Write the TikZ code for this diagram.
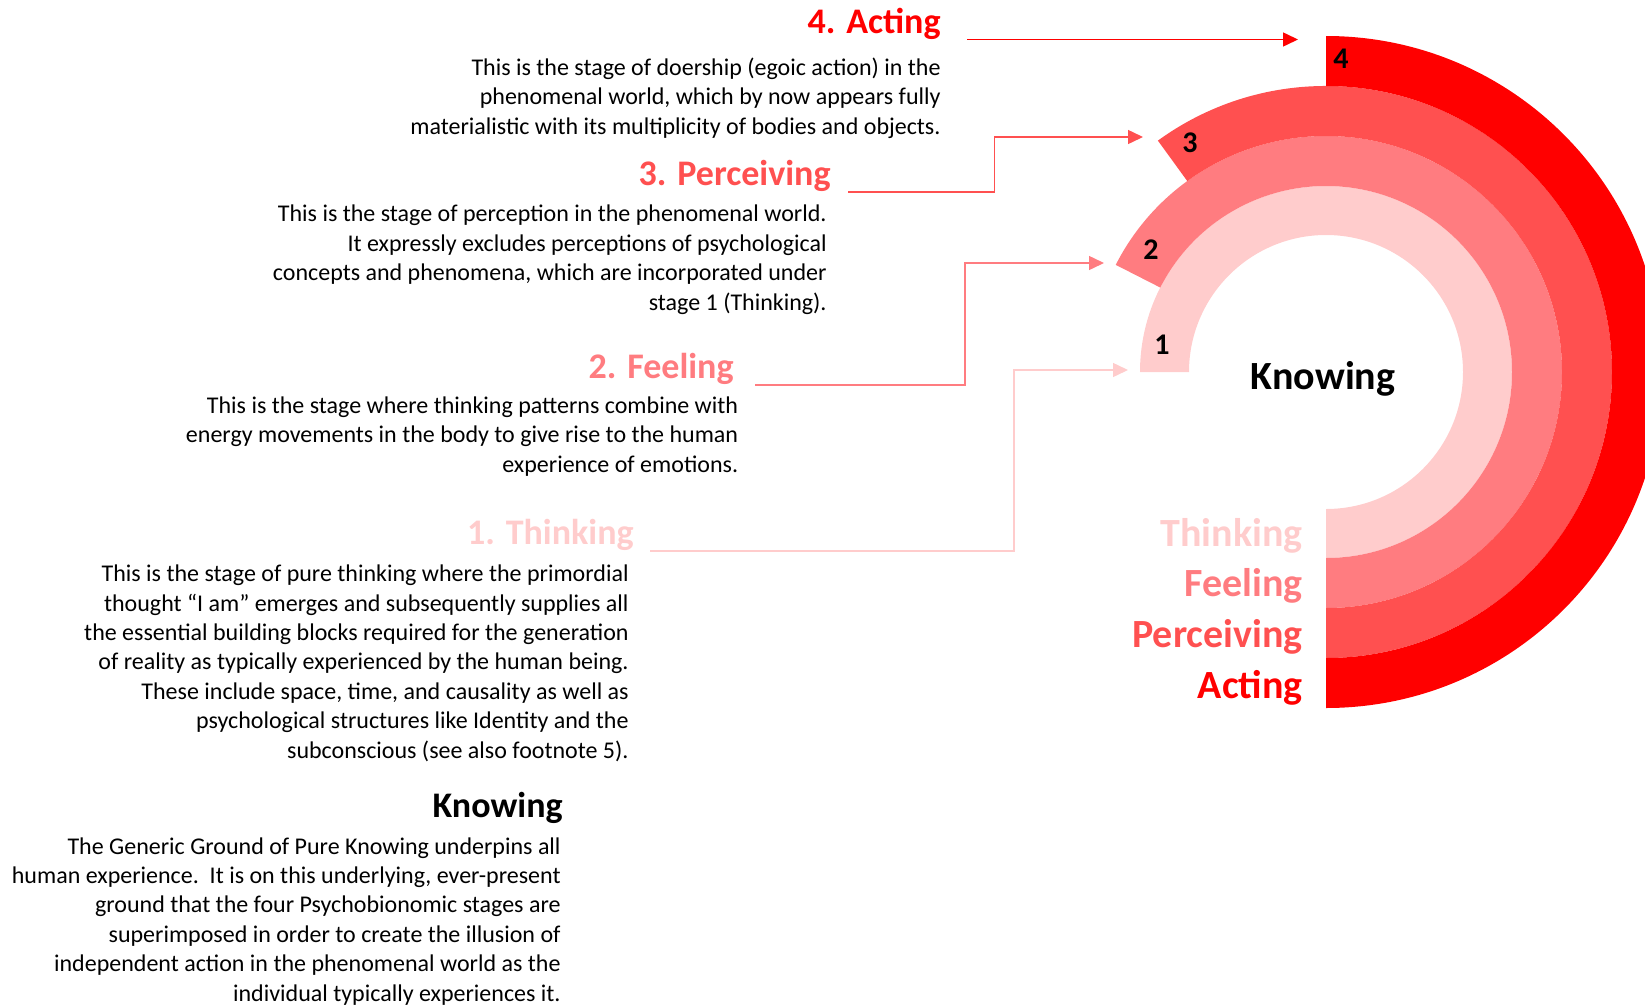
\documentclass[tikz,border=0pt]{standalone}
\usepackage{fontspec}
\setmainfont{Carlito}
\usetikzlibrary{arrows.meta,positioning,calc}
\definecolor{thiCol}{HTML}{FFCCCC}
\definecolor{feeCol}{HTML}{FF7C80}
\definecolor{perCol}{HTML}{FF5050}
\definecolor{actCol}{HTML}{FF0000}
\begin{document}
\begin{tikzpicture}[x=0.5pt,y=0.5pt,
		hd/.style={anchor=base east,inner sep=0pt,font=\fontsize{18}{21}\selectfont\bfseries},
		bd/.style={anchor=base east,inner sep=0pt,align=right,font=\fontsize{12}{14.7}\selectfont},
		rl/.style={anchor=base east,inner sep=0pt,font=\fontsize{20}{24}\selectfont\bfseries},
		num/.style={inner sep=0pt,font=\fontsize{15}{18}\selectfont\bfseries},
		con/.style={line width=0.75pt,-{Triangle[length=7.5pt,width=7pt]}}]
	\useasboundingbox (0,0) rectangle (1645,-1007);
	\coordinate (C) at (1326,-372);
	% the four stages round the ground
	\fill[thiCol] ($(C)+(180:186)$) arc[start angle=180,end angle=-90,radius=186] -- ($(C)+(-90:137)$) arc[start angle=-90,end angle=180,radius=137] -- cycle;
	\fill[feeCol] ($(C)+(153:236)$) arc[start angle=153,end angle=-90,radius=236] -- ($(C)+(-90:186)$) arc[start angle=-90,end angle=153,radius=186] -- cycle;
	\fill[perCol] ($(C)+(126:286)$) arc[start angle=126,end angle=-90,radius=286] -- ($(C)+(-90:236)$) arc[start angle=-90,end angle=126,radius=236] -- cycle;
	\fill[actCol] ($(C)+(90:336)$) arc[start angle=90,end angle=-90,radius=336] -- ($(C)+(-90:286)$) arc[start angle=-90,end angle=90,radius=286] -- cycle;
	\path 	(1341,-59) 	node (n4) [num] {4}
	        (1190,-143) node (n3) [num] {3}
	        (1151,-250) node (n2) [num] {2}
	        (1162,-345) node (n1) [num] {1};
	\node[rl,anchor=base,text=black] (kn) at (1323,-389) {Knowing};
	\node[rl,text=thiCol] (lThi) at (1303,-546) {Thinking};
	\node[rl,text=feeCol] (lFee) at (1303,-596) {Feeling};
	\node[rl,text=perCol] (lPer) at (1303,-647) {Perceiving};
	\node[rl,text=actCol] (lAct) at (1303,-698) {Acting};
	% headings and texts (texts sit on their last line)
	\node[hd,text=actCol] (hAct) at (941,-33) {4. Acting};
	\node[bd] (bAct) at (941,-134) {This is the stage of doership (egoic action) in the\\phenomenal world, which by now appears fully\\materialistic with its multiplicity of bodies and objects.};
	\node[hd,text=perCol] (hPer) at (831,-185.5) {3. Perceiving};
	\node[bd] (bPer) at (827,-310) {This is the stage of perception in the phenomenal world.\\It expressly excludes perceptions of psychological\\concepts and phenomena, which are incorporated under\\stage 1 (Thinking).};
	\node[hd,text=feeCol] (hFee) at (734,-378.5) {2. Feeling};
	\node[bd] (bFee) at (738.5,-472) {This is the stage where thinking patterns combine with\\energy movements in the body to give rise to the human\\experience of emotions.};
	\node[hd,text=thiCol] (hThi) at (634,-544.5) {1. Thinking};
	\node[bd] (bThi) at (629,-758) {This is the stage of pure thinking where the primordial\\thought “I am” emerges and subsequently supplies all\\the essential building blocks required for the generation\\of reality as typically experienced by the human being.\\These include space, time, and causality as well as\\psychological structures like Identity and the\\subconscious (see also footnote 5).};
	\node[hd] (hKno) at (563,-817.5) {Knowing};
	\node[bd] (bKno) at (561,-1001) {The Generic Ground of Pure Knowing underpins all\\human experience.\ \ It is on this underlying, ever-present\\ground that the four Psychobionomic stages are\\superimposed in order to create the illusion of\\independent action in the phenomenal world as the\\individual typically experiences it.};
	% connectors
	\coordinate (t4) at (1298,-39);
	\coordinate (t3) at (1143,-137);
	\coordinate (t2) at (1104,-263);
	\coordinate (t1) at (1128,-370);
	\coordinate (k3) at (994.5,-137);
	\coordinate (k2) at (965,-263);
	\coordinate (k1) at (1014,-370);
	\draw[con,actCol] ($(hAct.south east)+(26,0)$) coordinate (s4) -- (s4 -| t4);
	\draw[con,perCol] ($(hPer.south east)+(17,0)$) -| (k3) -- (t3);
	\draw[con,feeCol] ($(hFee.south east)+(21,0)$) -| (k2) -- (t2);
	\draw[con,thiCol] ($(hThi.south east)+(16,0)$) -| (k1) -- (t1);
\end{tikzpicture}
\end{document}
